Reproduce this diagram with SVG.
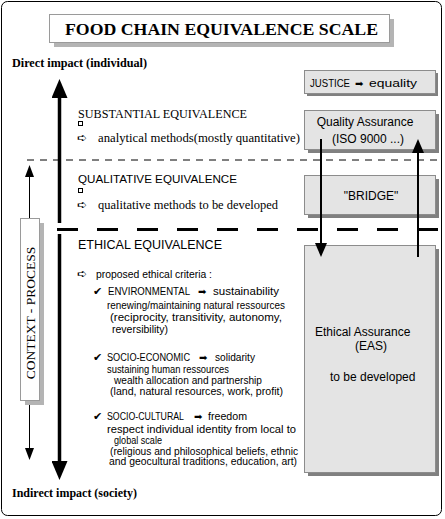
<svg xmlns="http://www.w3.org/2000/svg" width="445" height="519" viewBox="0 0 445 519">
<defs>
<style>
.serif{font-family:"Liberation Serif","Times New Roman",serif;fill:#000}
.sans{font-family:"Liberation Sans",Arial,sans-serif;fill:#000}
.sym{font-family:"DejaVu Sans",sans-serif;fill:#000}
.b{font-weight:bold}
.box{fill:#e4e4e4;stroke:#8c8c8c;stroke-width:1}
.shadow{fill:#808080}
.lshadow{fill:#b4b4b4}
.wbox{fill:#fff;stroke:#9a9a9a;stroke-width:1}
.body{font-size:10px}
.btxt{font-size:12px}
</style>
<marker id="ahBig" viewBox="0 0 19 16" markerWidth="19" markerHeight="16" refX="0" refY="8" orient="auto" markerUnits="userSpaceOnUse"><path d="M0,0 L19,8 L0,16 z" fill="#000"/></marker>
<marker id="ahMid" viewBox="0 0 14 12" markerWidth="14" markerHeight="12" refX="0" refY="6" orient="auto" markerUnits="userSpaceOnUse"><path d="M0,0 L14,6 L0,12 z" fill="#000"/></marker>
<marker id="ahSmall" viewBox="0 0 12 9" markerWidth="12" markerHeight="9" refX="0" refY="4.5" orient="auto" markerUnits="userSpaceOnUse"><path d="M0,0 L12,4.5 L0,9 z" fill="#000"/></marker>
</defs>
<rect x="0" y="0" width="445" height="519" fill="#fff"/>
<rect id="frame" x="1.5" y="1.5" width="440" height="514" rx="6" fill="#fff" stroke="#000" stroke-width="1"/>

<g id="title">
<rect class="lshadow" x="54" y="19" width="340" height="28"/>
<rect class="wbox" x="49.5" y="14.5" width="340" height="28"/>
<text class="serif b" x="65" y="35" font-size="17.5" textLength="313" lengthAdjust="spacingAndGlyphs">FOOD CHAIN EQUIVALENCE SCALE</text>
</g>

<g id="direct-impact"><text class="serif b" x="12" y="67" font-size="12" textLength="135" lengthAdjust="spacingAndGlyphs">Direct impact (individual)</text></g>
<g id="indirect-impact"><text class="serif b" x="12" y="497" font-size="12" textLength="125" lengthAdjust="spacingAndGlyphs">Indirect impact (society)</text></g>

<g id="justice">
<rect class="shadow" x="307" y="73" width="131" height="23"/>
<rect class="box" x="304.5" y="70.5" width="131" height="23"/>
<text class="sans" x="310" y="87" font-size="10.5" textLength="40" lengthAdjust="spacingAndGlyphs">JUSTICE</text>
<text class="sym" x="355" y="87" font-size="10">➡</text>
<text class="sans" x="369" y="87" font-size="10.5" textLength="48" lengthAdjust="spacingAndGlyphs">equality</text>
</g>

<g id="quality-assurance">
<rect class="shadow" x="308" y="114" width="131" height="39"/>
<rect class="box" x="304.5" y="110.5" width="131" height="39"/>
<text class="sans btxt" x="365" y="126" text-anchor="middle">Quality Assurance</text>
<text class="sans btxt" x="368" y="143" text-anchor="middle">(ISO 9000 ...)</text>
</g>

<g id="bridge">
<rect class="shadow" x="308" y="179" width="131" height="39"/>
<rect class="box" x="304.5" y="175.5" width="131" height="39"/>
<text class="sans btxt" x="371" y="200" text-anchor="middle">"BRIDGE"</text>
</g>

<g id="ethical-assurance">
<rect class="shadow" x="308" y="249" width="131" height="227"/>
<rect class="box" x="304.5" y="245.5" width="131" height="227"/>
<text class="sans btxt" x="315" y="336">Ethical Assurance</text>
<text class="sans btxt" x="355" y="350">(EAS)</text>
<text class="sans btxt" x="330" y="381">to be developed</text>
</g>

<g id="context-process">
<rect class="lshadow" x="25" y="223" width="19" height="182"/>
<rect class="wbox" x="20.5" y="218.5" width="19" height="182"/>
<text class="serif" x="0" y="0" font-size="13.5" text-anchor="middle" transform="translate(35,313) rotate(-90)">CONTEXT - PROCESS</text>
</g>

<g id="substantial-equivalence">
<text class="serif" x="78" y="118" font-size="12.5" textLength="169" lengthAdjust="spacingAndGlyphs">SUBSTANTIAL EQUIVALENCE</text>
<rect x="78.5" y="121.5" width="4" height="4" fill="none" stroke="#000" stroke-width="1"/>
<text class="sym" x="77" y="142" font-size="12">➪</text>
<text class="serif" x="98" y="142" font-size="12" textLength="202" lengthAdjust="spacingAndGlyphs">analytical methods(mostly quantitative)</text>
</g>

<g id="qualitative-equivalence">
<text class="sans" x="78" y="183" font-size="11.5" textLength="159" lengthAdjust="spacingAndGlyphs">QUALITATIVE EQUIVALENCE</text>
<rect x="78.5" y="188.5" width="4" height="4" fill="none" stroke="#000" stroke-width="1"/>
<text class="sym" x="77" y="209" font-size="12">➪</text>
<text class="serif" x="98" y="209" font-size="12" textLength="180" lengthAdjust="spacingAndGlyphs">qualitative methods to be developed</text>
</g>

<g id="ethical-equivalence">
<text class="sans" x="78" y="249" font-size="12" textLength="144" lengthAdjust="spacingAndGlyphs">ETHICAL EQUIVALENCE</text>
<text class="sym" x="77" y="278" font-size="12">➪</text>
<text class="sans body" x="96" y="278" textLength="116" lengthAdjust="spacingAndGlyphs">proposed ethical criteria :</text>

<text class="sym" x="93" y="295" font-size="11">✔</text>
<text class="sans body" x="108" y="295" textLength="82" lengthAdjust="spacingAndGlyphs">ENVIRONMENTAL</text>
<text class="sym" x="198" y="295" font-size="10">➡</text>
<text class="sans body" x="213" y="295" textLength="66" lengthAdjust="spacingAndGlyphs">sustainability</text>
<text class="sans body" x="107" y="309" textLength="178" lengthAdjust="spacingAndGlyphs">renewing/maintaining natural ressources</text>
<text class="sans body" x="110" y="321" textLength="172" lengthAdjust="spacingAndGlyphs">(reciprocity, transitivity, autonomy,</text>
<text class="sans body" x="112" y="333" textLength="56" lengthAdjust="spacingAndGlyphs">reversibility)</text>

<text class="sym" x="93" y="361" font-size="11">✔</text>
<text class="sans body" x="107" y="361" textLength="83" lengthAdjust="spacingAndGlyphs">SOCIO-ECONOMIC</text>
<text class="sym" x="199" y="361" font-size="10">➡</text>
<text class="sans body" x="215" y="361" textLength="40" lengthAdjust="spacingAndGlyphs">solidarity</text>
<text class="sans body" x="107" y="373" textLength="122" lengthAdjust="spacingAndGlyphs">sustaining human ressources</text>
<text class="sans body" x="114" y="384" textLength="148" lengthAdjust="spacingAndGlyphs">wealth allocation and partnership</text>
<text class="sans body" x="110" y="395" textLength="173" lengthAdjust="spacingAndGlyphs">(land, natural resources, work, profit)</text>

<text class="sym" x="93" y="420" font-size="11">✔</text>
<text class="sans body" x="107" y="420" textLength="77" lengthAdjust="spacingAndGlyphs">SOCIO-CULTURAL</text>
<text class="sym" x="194" y="420" font-size="10">➡</text>
<text class="sans body" x="208" y="420" textLength="39" lengthAdjust="spacingAndGlyphs">freedom</text>
<text class="sans body" x="107" y="433" textLength="189" lengthAdjust="spacingAndGlyphs">respect individual identity from local to</text>
<text class="sans body" x="114" y="444" textLength="48" lengthAdjust="spacingAndGlyphs">global scale</text>
<text class="sans body" x="110" y="455" textLength="188" lengthAdjust="spacingAndGlyphs">(religious and philosophical beliefs, ethnic</text>
<text class="sans body" x="109" y="465" textLength="188" lengthAdjust="spacingAndGlyphs">and geocultural traditions, education, art)</text>
</g>

<g id="connectors" fill="none" stroke="#000">
<line x1="27" y1="160" x2="437" y2="160" stroke-width="1" stroke-dasharray="7 6"/>
<line x1="57" y1="229.5" x2="440" y2="229.5" stroke-width="3" stroke-dasharray="21 19"/>
<line x1="59.5" y1="223" x2="59.5" y2="98" stroke-width="3.5" marker-end="url(#ahBig)"/>
<line x1="59.5" y1="234" x2="59.5" y2="461" stroke-width="3.5" marker-end="url(#ahBig)"/>
<line x1="29.5" y1="218" x2="29.5" y2="177" stroke-width="1" marker-end="url(#ahSmall)"/>
<line x1="29.5" y1="405" x2="29.5" y2="448" stroke-width="1" marker-end="url(#ahSmall)"/>
<line x1="321" y1="139" x2="321" y2="243" stroke-width="2" marker-end="url(#ahMid)"/>
<line x1="418" y1="257" x2="418" y2="153" stroke-width="2" marker-end="url(#ahMid)"/>
</g>
</svg>
